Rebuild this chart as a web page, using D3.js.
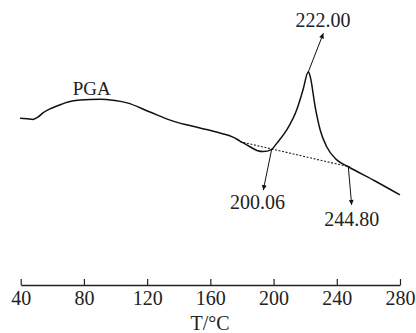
<!DOCTYPE html>
<html>
<head>
<meta charset="utf-8">
<script src="https://cdn.jsdelivr.net/npm/d3@7/dist/d3.min.js"></script>
<style>
  html, body { margin: 0; padding: 0; background: #fff; }
  svg { display: block; }
  text { font-family: "Liberation Serif", "Times New Roman", serif; fill: #222; }
</style>
</head>
<body>
<script>
// DSC curve of PGA (temperature in °C, heat flow in arbitrary units)
const temperature = [39.6, 44.0, 47.8, 50.9, 54.1, 58.5, 63.0, 69.9, 77.5, 90.2, 99.7, 107.3, 121.8, 136.4, 153.4, 166.1, 174.3, 178.8, 185.1, 189.5, 193.5, 198.8, 202.0, 208.3, 214.6, 218.6, 222.0, 223.2, 226.3, 229.5, 233.6, 240.0, 247.3, 264.2, 280.0];
const heatFlow    = [5.85, 5.83, 5.81, 5.89, 6.04, 6.18, 6.28, 6.42, 6.49, 6.52, 6.47, 6.39, 6.07, 5.75, 5.51, 5.33, 5.19, 5.05, 4.85, 4.72, 4.68, 4.76, 4.97, 5.44, 6.14, 6.84, 7.48, 7.31, 6.26, 5.44, 4.85, 4.39, 4.15, 3.65, 3.16];

// dotted baseline under the melting peak
const baselineT = [178.7, 248.4];
const baselineV = [5.03, 4.14];

// x-axis ticks
const xTicks = [40, 80, 120, 160, 200, 240, 280];
const xTitle = "T/°C";
const seriesLabel = "PGA";
const seriesLabelPos = [84.9, 6.65];

// annotations: label, point on curve, arrow tip, label position
const annLabels = ["222.00", "200.06", "244.80"];
const annFromT  = [222.0, 198.8, 247.3];
const annFromV  = [7.48, 4.76, 4.15];
const annTipT   = [231.5, 193.5, 249.4];
const annTipV   = [8.83, 3.33, 2.81];
const annTextT  = [231.3, 189.8, 249.4];
const annTextV  = [9.05, 2.68, 2.07];

const W = 416, H = 333;
const svg = d3.select("body").append("svg").attr("width", W).attr("height", H);

const x = d3.scaleLinear().domain([40, 280]).range([20.7, 400]);
const y = d3.scaleLinear().domain([0, 10]).range([285, 0]);

svg.append("defs").append("marker")
  .attr("id", "arrow")
  .attr("viewBox", "0 0 10 10")
  .attr("refX", 10).attr("refY", 5)
  .attr("markerWidth", 9).attr("markerHeight", 5)
  .attr("markerUnits", "userSpaceOnUse")
  .attr("orient", "auto")
  .append("path").attr("d", "M0,0 L10,5 L0,10 Z").attr("fill", "#111");

// axis
const axis = d3.axisBottom(x).tickValues(xTicks).tickFormat(d3.format("d"))
  .tickSizeInner(-6).tickSizeOuter(0);
const gx = svg.append("g").attr("transform", `translate(0,${y(0)})`).call(axis);
gx.select(".domain").attr("stroke", "#222").attr("stroke-width", 1.4);
gx.selectAll(".tick line").attr("stroke", "#222").attr("stroke-width", 1.2);
gx.selectAll(".tick text").attr("y", 20).attr("dy", 0)
  .style("font-family", '"Liberation Serif", serif').style("font-size", "20px").attr("fill", "#222");

svg.append("text").attr("x", 210).attr("y", 330).attr("text-anchor", "middle")
  .style("font-size", "20px").text(xTitle);

// baseline dotted
svg.append("line")
  .attr("x1", x(baselineT[0])).attr("y1", y(baselineV[0]))
  .attr("x2", x(baselineT[1])).attr("y2", y(baselineV[1]))
  .attr("stroke", "#222").attr("stroke-width", 1.1).attr("stroke-dasharray", "2,1.6");

// curve
const data = temperature.map((t, i) => ({t, v: heatFlow[i]}));
const line = d3.line().x(d => x(d.t)).y(d => y(d.v)).curve(d3.curveMonotoneX);
svg.append("path").datum(data).attr("d", line)
  .attr("fill", "none").attr("stroke", "#111").attr("stroke-width", 1.5)
  .attr("stroke-linejoin", "miter");

// series label
svg.append("text").attr("x", x(seriesLabelPos[0])).attr("y", y(seriesLabelPos[1]))
  .attr("text-anchor", "middle").style("font-size", "19px").text(seriesLabel);

// annotations
annLabels.forEach((lab, i) => {
  svg.append("line")
    .attr("x1", x(annFromT[i])).attr("y1", y(annFromV[i]))
    .attr("x2", x(annTipT[i])).attr("y2", y(annTipV[i]))
    .attr("stroke", "#111").attr("stroke-width", 1)
    .attr("marker-end", "url(#arrow)");
  svg.append("text").attr("x", x(annTextT[i])).attr("y", y(annTextV[i]))
    .attr("text-anchor", "middle").style("font-size", "20px").text(lab);
});
</script>
</body>
</html>
